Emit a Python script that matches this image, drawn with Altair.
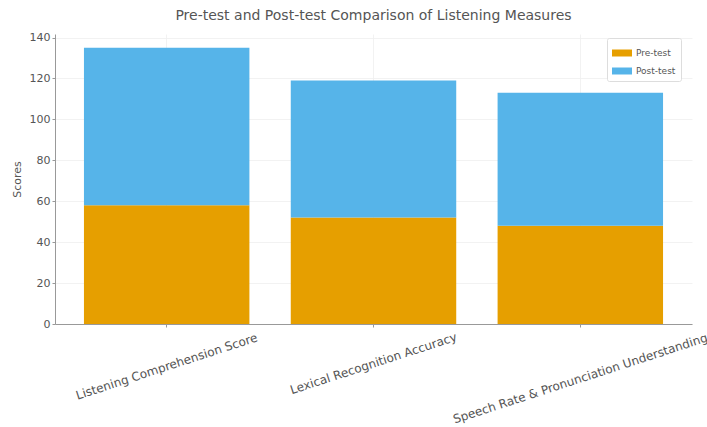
import altair as alt
import pandas as pd

categories = ["Listening Comprehension Score", "Lexical Recognition Accuracy",
              "Speech Rate & Pronunciation Understanding"]
pre_test = [58, 52, 48]
post_test = [77, 67, 65]
series = ["Pre-test", "Post-test"]
colors = ["#E69F00", "#56B4E9"]
y_ticks = [0, 20, 40, 60, 80, 100, 120, 140]

rows = []
for c, p, q in zip(categories, pre_test, post_test):
    rows.append({"Measure": c, "Test": series[0], "Score": p, "ord": 0})
    rows.append({"Measure": c, "Test": series[1], "Score": q, "ord": 1})
df = pd.DataFrame(rows)

font = "DejaVu Sans"
txt = "#555555"

label_pad = {
    "condition": [
        {"test": "datum.value == '" + categories[2] + "'", "value": 51},
        {"test": "datum.value == '" + categories[1] + "'", "value": 36},
    ],
    "value": 39,
}

chart = alt.Chart(df).mark_bar().encode(
    x=alt.X("Measure:N", sort=categories,
            scale=alt.Scale(paddingInner=0.2, paddingOuter=0.14),
            axis=alt.Axis(title=None, labelAngle=-18, labelAlign="center",
                          labelBaseline="middle", labelPadding=label_pad,
                          tickSize=3, bandPosition=0.5, grid=True,
                          gridColor="#efefef", gridWidth=0.8,
                          domainColor="#999999", tickColor="#999999",
                          labelColor=txt, labelFontSize=12, labelFont=font,
                          labelLimit=400)),
    y=alt.Y("Score:Q", stack="zero",
            scale=alt.Scale(domain=[0, 141.75], nice=False, zero=True),
            axis=alt.Axis(title="Scores", values=y_ticks, tickSize=3,
                          labelPadding=2, titlePadding=7, grid=True,
                          gridColor="#efefef", gridWidth=0.8,
                          domainColor="#999999", tickColor="#999999",
                          labelColor=txt, labelFontSize=11, labelFont=font,
                          titleColor=txt, titleFontSize=11, titleFont=font,
                          titleFontWeight="normal")),
    color=alt.Color("Test:N", scale=alt.Scale(domain=series, range=colors),
                    legend=alt.Legend(title=None, orient="none", legendX=552,
                                      legendY=4,
                                      symbolType="M-1,-0.35H1V0.35H-1Z",
                                      symbolSize=400, symbolStrokeWidth=0,
                                      labelFontSize=9, labelColor=txt,
                                      labelFont=font, strokeColor="#dddddd",
                                      padding=5, cornerRadius=2,
                                      fillColor="white", rowPadding=3)),
    order=alt.Order("ord:Q"),
).properties(
    width=637, height=290,
    title=alt.TitleParams("Pre-test and Post-test Comparison of Listening Measures",
                          fontSize=14, font=font, color=txt, fontWeight="normal",
                          anchor="middle", offset=9),
    autosize=alt.AutoSizeParams(type="none"),
    padding={"left": 55, "top": 34, "right": 15, "bottom": 103},
).configure_view(stroke=None)

chart.save("out.html", embed_options={"renderer": "svg", "actions": False})
